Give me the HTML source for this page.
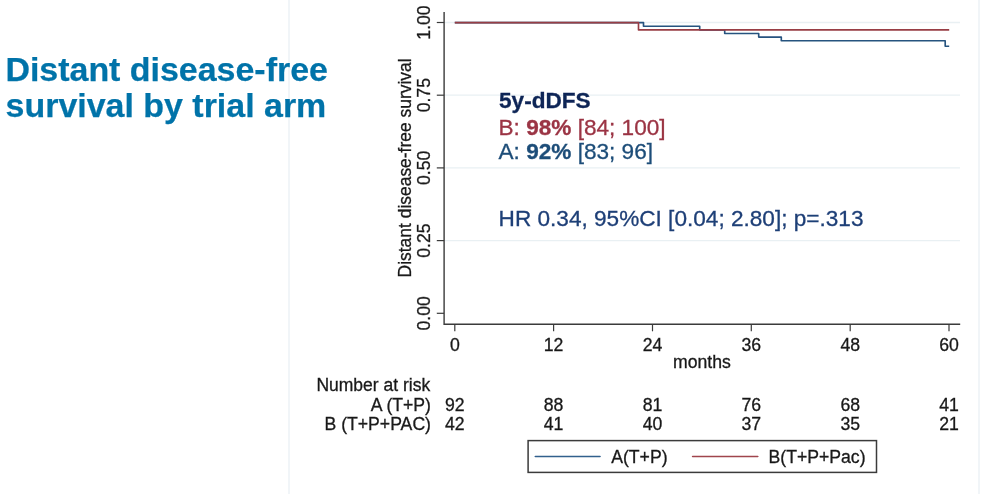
<!DOCTYPE html>
<html lang="en"><head><meta charset="utf-8"><title>Distant disease-free survival by trial arm</title>
<style>
html,body{margin:0;padding:0;background:#fff;}
body{width:982px;height:494px;overflow:hidden;position:relative;font-family:"Liberation Sans",Arial,Helvetica,sans-serif;}
svg{position:absolute;left:0;top:0;display:block;}
text{font-family:"Liberation Sans",Arial,Helvetica,sans-serif;}
.t{font-size:17.65px;fill:#1a1a1a;stroke:#1a1a1a;stroke-width:0.3px;}
.ann{font-size:22.6px;}
.title{font-size:33.95px;font-weight:bold;fill:#0573a9;stroke:#0573a9;stroke-width:0.25px;}
</style></head><body>
<svg width="982" height="494" viewBox="0 0 982 494">
<defs><filter id="soft" x="0" y="0" width="982" height="494" filterUnits="userSpaceOnUse"><feGaussianBlur stdDeviation="0.38"/></filter></defs>
<rect x="0" y="0" width="982" height="494" fill="#ffffff"/>
<g filter="url(#soft)">
<rect x="288" y="0" width="2" height="494" fill="#f1f5f8"/>
<rect x="978" y="0" width="2" height="494" fill="#f1f5f8"/>
<text class="title" x="5.4" y="80.6">Distant disease-free</text>
<text class="title" x="5.6" y="116.5">survival by trial arm</text>
<line x1="445" x2="960" y1="240.6" y2="240.6" stroke="#e9f0f3" stroke-width="1.3"/>
<line x1="445" x2="960" y1="167.9" y2="167.9" stroke="#e9f0f3" stroke-width="1.3"/>
<line x1="445" x2="960" y1="95.2" y2="95.2" stroke="#e9f0f3" stroke-width="1.3"/>
<line x1="445" x2="960" y1="22.5" y2="22.5" stroke="#e9f0f3" stroke-width="1.3"/>
<polyline fill="none" stroke="#27537f" stroke-width="1.65" stroke-linejoin="round" points="454.8,22.6 643.5,22.6 643.5,26.2 699.7,26.2 699.7,29.8 724.7,29.8 724.7,33.5 758.7,33.5 758.7,37.1 781.3,37.1 781.3,40.7 945.2,40.7 945.2,46.2 949.2,46.2"/>
<polyline fill="none" stroke="#983c45" stroke-width="1.65" stroke-linejoin="round" points="454.8,22.6 638.5,22.6 638.5,29.9 949.2,29.9"/>
<path d="M444.1 12 V324.2 H960.2" fill="none" stroke="#3a3a3a" stroke-width="1.4"/>
<line x1="436.8" x2="444.1" y1="313.3" y2="313.3" stroke="#3a3a3a" stroke-width="1.2"/>
<line x1="436.8" x2="444.1" y1="240.6" y2="240.6" stroke="#3a3a3a" stroke-width="1.2"/>
<line x1="436.8" x2="444.1" y1="167.9" y2="167.9" stroke="#3a3a3a" stroke-width="1.2"/>
<line x1="436.8" x2="444.1" y1="95.2" y2="95.2" stroke="#3a3a3a" stroke-width="1.2"/>
<line x1="436.8" x2="444.1" y1="22.5" y2="22.5" stroke="#3a3a3a" stroke-width="1.2"/>
<line x1="454.8" x2="454.8" y1="324.2" y2="331.3" stroke="#3a3a3a" stroke-width="1.2"/>
<line x1="553.6" x2="553.6" y1="324.2" y2="331.3" stroke="#3a3a3a" stroke-width="1.2"/>
<line x1="652.5" x2="652.5" y1="324.2" y2="331.3" stroke="#3a3a3a" stroke-width="1.2"/>
<line x1="751.3" x2="751.3" y1="324.2" y2="331.3" stroke="#3a3a3a" stroke-width="1.2"/>
<line x1="850.2" x2="850.2" y1="324.2" y2="331.3" stroke="#3a3a3a" stroke-width="1.2"/>
<line x1="949.0" x2="949.0" y1="324.2" y2="331.3" stroke="#3a3a3a" stroke-width="1.2"/>
<text class="t" text-anchor="middle" transform="translate(430.2 313.3) rotate(-90)">0.00</text>
<text class="t" text-anchor="middle" transform="translate(430.2 240.6) rotate(-90)">0.25</text>
<text class="t" text-anchor="middle" transform="translate(430.2 167.9) rotate(-90)">0.50</text>
<text class="t" text-anchor="middle" transform="translate(430.2 95.2) rotate(-90)">0.75</text>
<text class="t" text-anchor="middle" transform="translate(430.2 22.5) rotate(-90)">1.00</text>
<text class="t" style="font-size:17.45px" text-anchor="middle" transform="translate(410.5 167.9) rotate(-90)">Distant disease-free survival</text>
<text class="t" text-anchor="middle" x="454.8" y="350.8">0</text>
<text class="t" text-anchor="middle" x="553.6" y="350.8">12</text>
<text class="t" text-anchor="middle" x="652.5" y="350.8">24</text>
<text class="t" text-anchor="middle" x="751.3" y="350.8">36</text>
<text class="t" text-anchor="middle" x="850.2" y="350.8">48</text>
<text class="t" text-anchor="middle" x="949.0" y="350.8">60</text>
<text class="t" text-anchor="middle" x="701.9" y="367.8">months</text>
<text class="t" x="316.4" y="390.6" textLength="113.8" lengthAdjust="spacingAndGlyphs">Number at risk</text>
<text class="t" text-anchor="end" x="431.0" y="410.5">A (T+P)</text>
<text class="t" text-anchor="end" x="431.0" y="429.8">B (T+P+PAC)</text>
<text class="t" text-anchor="middle" x="454.8" y="410.5">92</text>
<text class="t" text-anchor="middle" x="454.8" y="429.8">42</text>
<text class="t" text-anchor="middle" x="553.6" y="410.5">88</text>
<text class="t" text-anchor="middle" x="553.6" y="429.8">41</text>
<text class="t" text-anchor="middle" x="652.5" y="410.5">81</text>
<text class="t" text-anchor="middle" x="652.5" y="429.8">40</text>
<text class="t" text-anchor="middle" x="751.3" y="410.5">76</text>
<text class="t" text-anchor="middle" x="751.3" y="429.8">37</text>
<text class="t" text-anchor="middle" x="850.2" y="410.5">68</text>
<text class="t" text-anchor="middle" x="850.2" y="429.8">35</text>
<text class="t" text-anchor="middle" x="949.0" y="410.5">41</text>
<text class="t" text-anchor="middle" x="949.0" y="429.8">21</text>
<rect x="528.1" y="440.6" width="348.4" height="31.8" fill="#fff" stroke="#3a3a3a" stroke-width="1.5"/>
<line x1="535.3" x2="600" y1="456.5" y2="456.5" stroke="#33608d" stroke-width="1.6" stroke-linecap="round"/>
<text class="t" x="611.2" y="462.6">A(T+P)</text>
<line x1="692.6" x2="757.8" y1="456.5" y2="456.5" stroke="#a0444e" stroke-width="1.6" stroke-linecap="round"/>
<text class="t" x="768.5" y="462.6">B(T+P+Pac)</text>
<text class="ann" x="499.0" y="108.0" fill="#0f2557" stroke="#0f2557" stroke-width="0.3" font-weight="bold">5y-dDFS</text>
<text class="ann" x="498.5" y="135.1" fill="#9b3444" stroke="#9b3444" stroke-width="0.3">B: <tspan font-weight="bold">98%</tspan> [84; 100]</text>
<text class="ann" x="498.5" y="158.6" fill="#1f4e79" stroke="#1f4e79" stroke-width="0.3">A: <tspan font-weight="bold">92%</tspan> [83; 96]</text>
<text class="ann" x="498.6" y="226.1" fill="#1f3f77" stroke="#1f3f77" stroke-width="0.3">HR 0.34, 95%CI [0.04; 2.80]; p=.313</text>
</g>
</svg></body></html>
